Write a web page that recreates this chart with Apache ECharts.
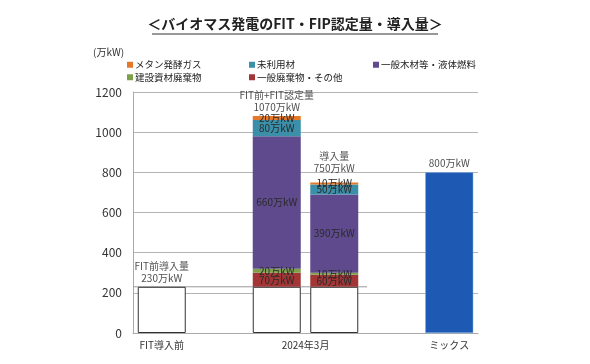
<!DOCTYPE html>
<html><head><meta charset="utf-8">
<script src="https://cdn.jsdelivr.net/npm/echarts@6/dist/echarts.min.js"></script>
<style>html,body{margin:0;padding:0;background:#fff}#c{width:590px;height:364px}</style>
</head><body><div id="c"></div>
<script>
// Slots along the x axis (middle category holds two bars)
const slots = ["FIT導入前", "", "2024年3月 認定", "2024年3月 導入", "", "ミックス"];
const tickLabels = {"0.5": "FIT導入前", "3": "2024年3月", "5.5": "ミックス"};
const baseFIT = [230, null, 230, 230, null, null];           // FIT前導入量
const waste = [null, null, 70, 60, null, null];             // 一般廃棄物・その他
const construction = [null, null, 20, 10, null, null];      // 建設資材廃棄物
const generalWood = [null, null, 660, 390, null, null];     // 一般木材等・液体燃料
const unusedWood = [null, null, 80, 50, null, null];        // 未利用材
const methane = [null, null, 20, 10, null, null];           // メタン発酵ガス
const mix = [null, null, null, null, null, 800];            // ミックス
const totals = [[0, 230], [2, 1080], [3, 750], [5, 800]];
const totalLabels = ["FIT前導入量\n230万kW", "FIT前+FIT認定量\n1070万kW", "導入量\n750万kW", "800万kW"];
const refLine = [[0, 230], [4.07, 230]];
const yTicks = [0, 200, 400, 600, 800, 1000, 1200];

const F = "'Noto Sans CJK JP','Noto Sans',sans-serif";
const segLabel = {show: true, position: 'inside', formatter: p => p.value + '万kW', fontSize: 10, color: '#2a2a2a', fontFamily: F};
function seg(name, data, color) {
  return {name, type: 'bar', stack: 'a', xAxisIndex: 0, data, barWidth: 48,
    itemStyle: {color}, label: segLabel, emphasis: {disabled: true}};
}
const legendText = {fontSize: 9.5, color: '#222', padding: [0, 0, 0, -3]};
const chart = echarts.init(document.getElementById('c'), null, {renderer: 'canvas'});
chart.setOption({
  animation: false,
  textStyle: {fontFamily: F},
  grid: {left: 133, right: 112, top: 92, bottom: 31},
  graphic: [
    {type: 'text', left: 'center', top: 17, style: {text: '＜バイオマス発電のFIT・FIP認定量・導入量＞', font: "bold 14px " + F, fill: '#222'}},
    {type: 'line', shape: {x1: 152, y1: 34, x2: 438, y2: 34}, style: {stroke: '#333', lineWidth: 1}},
    {type: 'text', left: 93, top: 47, style: {text: '(万kW)', font: "10px " + F, fill: '#333'}}
  ],
  legend: [
    {left: 122, top: 55, orient: 'vertical', itemGap: 3, itemWidth: 6, itemHeight: 6, icon: 'rect',
      textStyle: legendText, data: ['メタン発酵ガス', '建設資材廃棄物']},
    {left: 244, top: 55, orient: 'vertical', itemGap: 3, itemWidth: 6, itemHeight: 6, icon: 'rect',
      textStyle: legendText, data: ['未利用材', '一般廃棄物・その他']},
    {left: 368, top: 55, orient: 'vertical', itemGap: 3, itemWidth: 6, itemHeight: 6, icon: 'rect',
      textStyle: legendText, data: ['一般木材等・液体燃料']}
  ],
  xAxis: [
    {type: 'category', data: slots, axisLine: {lineStyle: {color: '#aaa'}}, axisTick: {show: false}, axisLabel: {show: false}},
    {type: 'value', min: 0, max: 6, interval: 0.5, position: 'bottom', splitLine: {show: false},
      axisLine: {show: false}, axisTick: {show: false},
      axisLabel: {margin: 7, fontSize: 10, color: '#333', formatter: v => tickLabels[String(v)] || ''}}
  ],
  yAxis: {type: 'value', min: yTicks[0], max: yTicks[yTicks.length - 1], interval: 200,
    axisLine: {show: true, lineStyle: {color: '#aaa'}}, axisTick: {show: false},
    axisLabel: {fontSize: 12, color: '#333', margin: 11, formatter: v => String(v)},
    splitLine: {lineStyle: {color: '#b4b4b4'}}},
  series: [
    {name: 'FIT前導入量', type: 'bar', stack: 'a', data: baseFIT, barWidth: 48,
      itemStyle: {color: '#fff', borderColor: '#333', borderWidth: 1}, emphasis: {disabled: true}},
    seg('一般廃棄物・その他', waste, '#A23636'),
    seg('建設資材廃棄物', construction, '#7EA04A'),
    seg('一般木材等・液体燃料', generalWood, '#5E4A8C'),
    seg('未利用材', unusedWood, '#3B8FA9'),
    seg('メタン発酵ガス', methane, '#E5792B'),
    {name: 'ミックス', type: 'bar', stack: 'a', data: mix, barWidth: 48,
      itemStyle: {color: '#1E5AB4', borderColor: '#7fb0e8', borderWidth: 0.5}, emphasis: {disabled: true}},
    {name: 'ref', type: 'line', xAxisIndex: 1, data: refLine, symbol: 'none', lineStyle: {color: '#999', width: 1}, z: 1, silent: true},
    {name: 'totals', type: 'scatter', data: totals.map((d, i) => ({value: d, label: {distance: i === 2 ? 8 : 3}})),
      symbolSize: 0, silent: true, z: 5,
      label: {show: true, position: 'top', fontSize: 10, lineHeight: 12, color: '#222',
        formatter: p => totalLabels[p.dataIndex]}}
  ]
});
</script></body></html>
